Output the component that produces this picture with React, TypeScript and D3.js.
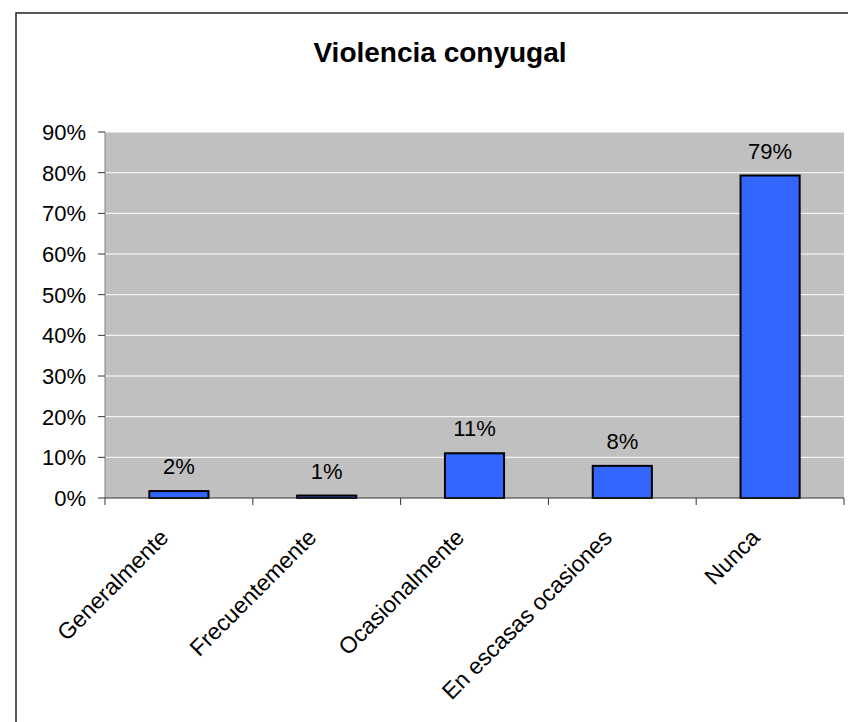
import React from "react";
import * as d3 from "d3";

const title = "Violencia conyugal";
const categories = ["Generalmente", "Frecuentemente", "Ocasionalmente", "En escasas ocasiones", "Nunca"];
const values = [0.017, 0.006, 0.11, 0.079, 0.793];
const valueLabels = ["2%", "1%", "11%", "8%", "79%"];
const yTicks = [0, 0.1, 0.2, 0.3, 0.4, 0.5, 0.6, 0.7, 0.8, 0.9];

const W = 848;
const H = 722;
const plot = { left: 105, top: 132, right: 844, bottom: 498 };
const font = "'Liberation Sans', Arial, sans-serif";

export default function App() {
  const x = d3.scaleBand<string>().domain(categories).range([plot.left, plot.right]).paddingInner(0.6).paddingOuter(0.3);
  const xb = d3.scaleBand<string>().domain(categories).range([plot.left, plot.right]);
  const y = d3.scaleLinear().domain([0, 0.9]).range([plot.bottom, plot.top]);
  const fmt = d3.format(".0%");
  const tickXs = categories.map((c) => xb(c) as number).concat([plot.right]);

  return (
    <svg width={W} height={H} style={{ position: "absolute", left: 0, top: 0, background: "#fff" }}>
      <rect x={16} y={13} width={W + 20} height={H + 20} fill="#fff" stroke="#222" strokeWidth={1.5} />
      <text x={440} y={62} textAnchor="middle" fontFamily={font} fontWeight="bold" fontSize={28} fill="#000">
        {title}
      </text>
      <rect x={plot.left} y={plot.top} width={plot.right - plot.left} height={plot.bottom - plot.top} fill="#C0C0C0" />
      {yTicks.slice(1).map((t) => (
        <line key={t} x1={plot.left} x2={plot.right} y1={y(t)} y2={y(t)} stroke="#fff" strokeWidth={1} />
      ))}
      {/* y axis */}
      <line x1={plot.left} x2={plot.left} y1={plot.top} y2={plot.bottom} stroke="#808080" strokeWidth={1} />
      {yTicks.map((t) => (
        <g key={"yt" + t}>
          <line x1={plot.left - 7} x2={plot.left} y1={y(t)} y2={y(t)} stroke="#333" strokeWidth={1} />
          <text x={86} y={y(t)} dy="0.36em" textAnchor="end" fontFamily={font} fontSize={22} fill="#000">
            {fmt(t)}
          </text>
        </g>
      ))}
      {/* bars */}
      {categories.map((c, i) => (
        <rect key={c} x={x(c)} y={y(values[i])} width={x.bandwidth()} height={plot.bottom - y(values[i])}
          fill="#3366FF" stroke="#000" strokeWidth={2} />
      ))}
      {/* x axis */}
      <line x1={plot.left} x2={plot.right} y1={plot.bottom} y2={plot.bottom} stroke="#333" strokeWidth={1} />
      {tickXs.map((tx, i) => (
        <line key={"xt" + i} x1={tx} x2={tx} y1={plot.bottom} y2={plot.bottom + 7} stroke="#333" strokeWidth={1} />
      ))}
      {/* value labels */}
      {categories.map((c, i) => (
        <text key={"vl" + c} x={(x(c) as number) + x.bandwidth() / 2} y={y(values[i]) - 17} textAnchor="middle"
          fontFamily={font} fontSize={22} fill="#000">
          {valueLabels[i]}
        </text>
      ))}
      {/* category labels */}
      {categories.map((c) => {
        const cx = (xb(c) as number) + xb.bandwidth() / 2 - 9;
        const cy = 539;
        return (
          <text key={"cl" + c} transform={`translate(${cx},${cy}) rotate(-45)`} textAnchor="end"
            fontFamily={font} fontSize={23} fill="#000">
            {c}
          </text>
        );
      })}
    </svg>
  );
}
